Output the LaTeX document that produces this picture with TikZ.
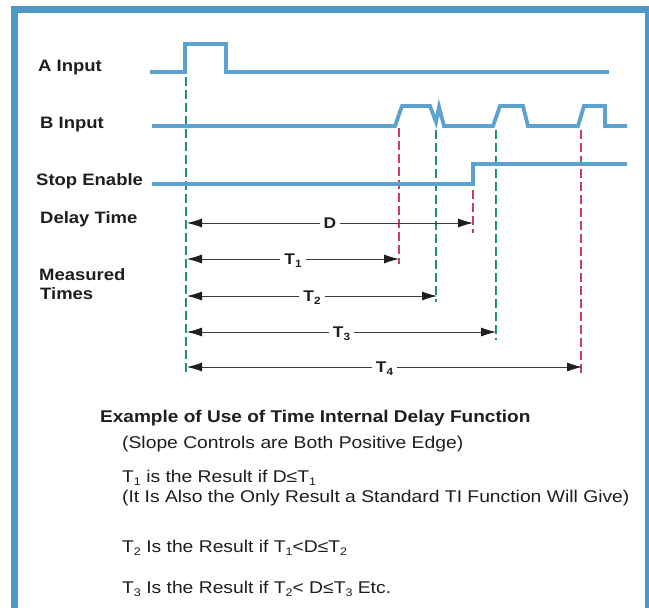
\documentclass[tikz,border=0pt]{standalone}
\usepackage{fontspec}
\setmainfont{Liberation Sans}[FakeStretch=1.12]
\newfontfamily\bodyfont{Liberation Sans}[FakeStretch=1.135]
\usetikzlibrary{arrows.meta}
\definecolor{frameblue}{RGB}{78,152,200}
\definecolor{waveblue}{RGB}{92,162,206}
\definecolor{dred}{RGB}{196,52,102}
\definecolor{dgreen}{RGB}{40,150,120}
\definecolor{ink}{RGB}{30,30,30}
\definecolor{dimgray}{RGB}{60,60,60}
\newcommand\lsub[1]{\raisebox{-3pt}{\fontsize{10.5}{11}\selectfont #1}}
\newcommand\bsub[1]{\raisebox{-3pt}{\fontsize{11}{11}\selectfont #1}}
\begin{document}
\begin{tikzpicture}[x=1pt,y=-1pt,
  wave/.style={waveblue, line width=3.8pt},
  frm/.style={frameblue, line width=7pt},
  dashr/.style={dred, line width=0.9pt, dash pattern=on 9pt off 4pt},
  dashg/.style={dgreen, line width=0.9pt, dash pattern=on 9pt off 4pt},
  siglbl/.style={font=\fontsize{16.5}{19}\selectfont\bfseries, text=ink, anchor=base west, inner sep=0pt},
  dim/.style={dimgray, line width=0.8pt, {Latex[length=15pt,width=9pt,color=ink]}-{Latex[length=15pt,width=9pt,color=ink]}},
  dimlbl/.style={font=\fontsize{15.5}{18}\selectfont\bfseries, text=ink, fill=white, inner xsep=4pt, inner ysep=1pt, anchor=base, yshift=-5.5pt},
  captxt/.style={font=\fontsize{17}{20}\selectfont\bfseries, text=ink, anchor=base west, inner sep=0pt},
  bodytxt/.style={font=\bodyfont\fontsize{17}{20}\selectfont, text=ink, anchor=base west, inner sep=0pt},
]
\useasboundingbox (0,0) rectangle (649,608);
\fill[white] (0,0) rectangle (649,608);
% frame
\draw[frm] (14.5,9) rectangle (648,612);

% signal labels
\node[siglbl] (lA) at (38,71) {A Input};
\node[siglbl] (lB) at (40,128) {B Input};
\node[siglbl] (lS) at (36,185) {Stop Enable};
\node[siglbl] (lD) at (40,223) {Delay Time};
\node[siglbl] (lM) at (39,280) {Measured};
\node[siglbl] (lT) at (40,299) {Times};

% dashed reference lines
\draw[dashr] (185.5,77) -- (185.5,374);
\draw[dashg] (186.5,77) -- (186.5,374);
\draw[dashg] (399.5,128) -- (399.5,264);
\draw[dashr] (398.5,128) -- (398.5,264);
\draw[dashr] (435.5,130) -- (435.5,302);
\draw[dashg] (436.5,130) -- (436.5,302);
\draw[dashg] (473.5,190) -- (473.5,233);
\draw[dashr] (472.5,190) -- (472.5,233);
\draw[dashr] (495.5,130) -- (495.5,340);
\draw[dashg] (496.5,130) -- (496.5,340);
\draw[dashr] (580.5,130) -- (580.5,374);
\draw[dashg] (581.5,130) -- (581.5,374);

% waveforms
\draw[wave] (150,72) -- (185,72) -- (185,44) -- (226,44) -- (226,72) -- (609,72);
\draw[wave] (152,126) -- (395,126) -- (402,106) -- (430,106) -- (436,122) -- (439,107) -- (444,126)
  -- (493,126) -- (500,106) -- (523,106) -- (528,126) -- (578,126) -- (584,106) -- (605,106)
  -- (605,126) -- (627,126);
\draw[wave] (152,184) -- (473,184) -- (473,164) -- (627,164);

% dimension arrows
\coordinate (dL) at (187,223); \coordinate (dR) at (473,223);
\coordinate (t1L) at (187,259); \coordinate (t1R) at (399,259);
\coordinate (t2L) at (187,296); \coordinate (t2R) at (437,296);
\coordinate (t3L) at (187,332); \coordinate (t3R) at (496,332);
\coordinate (t4L) at (187,367); \coordinate (t4R) at (582,367);
\draw[dim] (dL) -- node[dimlbl] (nD) {D} (dR);
\draw[dim] (t1L) -- node[dimlbl] (nT1) {T\lsub{1}} (t1R);
\draw[dim] (t2L) -- node[dimlbl] (nT2) {T\lsub{2}} (t2R);
\draw[dim] (t3L) -- node[dimlbl] (nT3) {T\lsub{3}} (t3R);
\draw[dim] (t4L) -- node[dimlbl] (nT4) {T\lsub{4}} (t4R);

% caption text
\node[captxt] (cap) at (100,422) {Example of Use of Time Internal Delay Function};
\node[bodytxt] (b1) at (122,448) {(Slope Controls are Both Positive Edge)};
\node[bodytxt] (b2) at (122,482) {T\bsub{1} is the Result if D≤T\bsub{1}};
\node[bodytxt] (b3) at (122,502) {(It Is Also the Only Result a Standard TI Function Will Give)};
\node[bodytxt] (b4) at (122,552) {T\bsub{2} Is the Result if T\bsub{1}<D≤T\bsub{2}};
\node[bodytxt] (b5) at (122,593) {T\bsub{3} Is the Result if T\bsub{2}< D≤T\bsub{3} Etc.};
\end{tikzpicture}
\end{document}
